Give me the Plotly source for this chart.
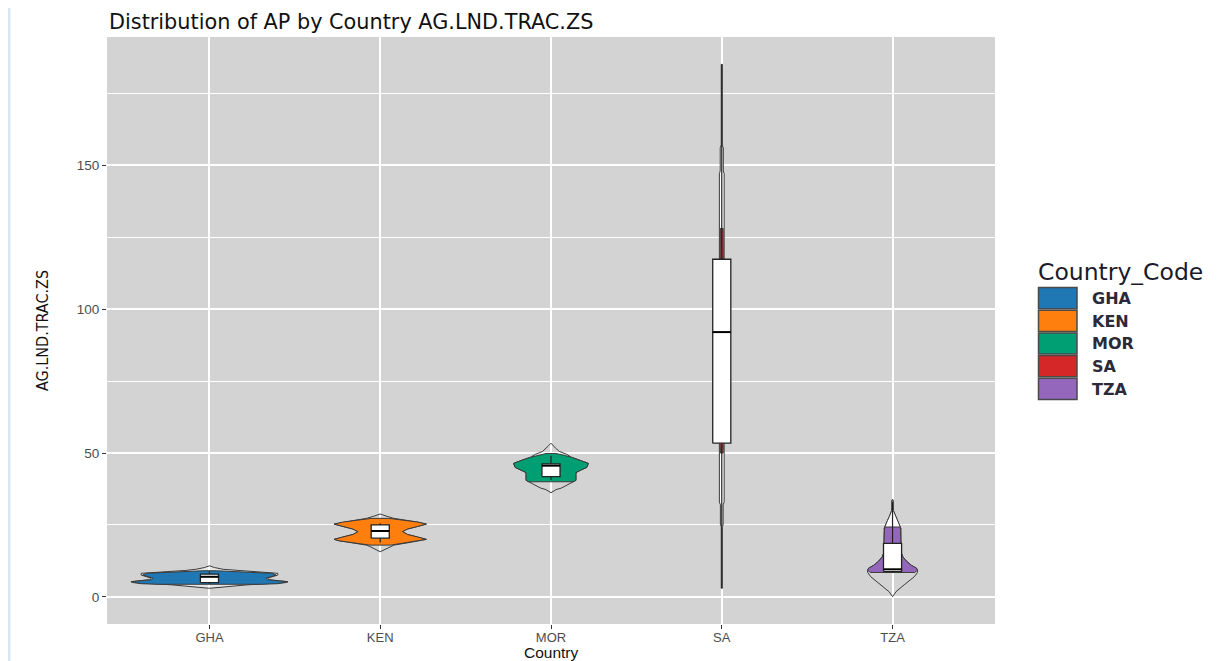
import plotly.graph_objects as go

# ---------------- data ----------------
countries = ["GHA", "KEN", "MOR", "SA", "TZA"]
colors = ["#1F77B4", "#FF7F0E", "#009E73", "#D62728", "#9467BD"]

# box statistics
q1 = [5.0, 20.4, 41.8, 53.4, 8.8]
median = [7.0, 22.9, 45.6, 92.0, 9.6]
q3 = [7.9, 25.0, 46.2, 117.3, 18.6]
lower_whisker = [4.6, 18.9, 40.6, 3.0, 8.3]
upper_whisker = [8.9, 25.6, 49.0, 185.0, 33.0]

# violin profiles: value levels (y) and half widths (in category units)
gha_outline_v = [3.0, 4.2, 5.0, 5.3, 5.6, 6.0, 6.5, 7.0, 7.6, 8.2, 8.7, 9.2, 9.6, 10.2, 10.8]
gha_outline_hw = [0.0, 0.22, 0.45, 0.46, 0.41, 0.35, 0.34, 0.37, 0.40, 0.40, 0.26, 0.14, 0.08, 0.03, 0.0]
gha_fill_v = [4.4, 4.6, 5.0, 5.3, 5.6, 6.0, 6.5, 7.0, 7.6, 8.2, 8.7, 9.1]
gha_fill_hw = [0.30, 0.40, 0.44, 0.455, 0.40, 0.34, 0.33, 0.36, 0.39, 0.37, 0.20, 0.04]

ken_outline_v = [15.7, 16.5, 17.5, 18.0, 18.8, 19.5, 20.0, 20.8, 21.7, 22.7, 23.6, 24.5, 25.3, 26.0, 26.7, 27.3, 28.0, 28.8]
ken_outline_hw = [0.0, 0.03, 0.06, 0.08, 0.16, 0.24, 0.27, 0.22, 0.16, 0.13, 0.16, 0.22, 0.27, 0.22, 0.14, 0.08, 0.04, 0.0]
ken_fill_v = [18.0, 18.8, 19.5, 20.0, 20.8, 21.7, 22.7, 23.6, 24.5, 25.3, 26.0, 26.7, 27.3]
ken_fill_hw = [0.06, 0.15, 0.24, 0.27, 0.22, 0.16, 0.13, 0.16, 0.22, 0.27, 0.22, 0.13, 0.05]

mor_outline_v = [36.2, 37.3, 37.8, 39.0, 40.0, 40.5, 42.0, 43.2, 44.1, 45.0, 46.4, 47.5, 48.5, 49.6, 50.5, 51.5, 52.5, 53.4]
mor_outline_hw = [0.0, 0.03, 0.06, 0.10, 0.13, 0.146, 0.146, 0.146, 0.176, 0.21, 0.219, 0.17, 0.12, 0.09, 0.05, 0.03, 0.015, 0.0]
mor_fill_v = [40.0, 40.5, 42.0, 43.2, 44.1, 45.0, 46.4, 47.5, 48.5, 49.3, 49.8]
mor_fill_hw = [0.13, 0.146, 0.146, 0.146, 0.176, 0.21, 0.219, 0.17, 0.12, 0.07, 0.03]

sa_outline_v = [3.0, 24.5, 25.0, 32.0, 33.0, 50.0, 53.0, 117.0, 128.0, 138.0, 147.0, 148.0, 156.0, 157.0, 185.0]
sa_outline_hw = [0.003, 0.003, 0.008, 0.008, 0.014, 0.014, 0.016, 0.016, 0.012, 0.014, 0.014, 0.009, 0.009, 0.003, 0.003]
sa_fill_v = [50.0, 53.0, 117.0, 128.0]
sa_fill_hw = [0.008, 0.009, 0.009, 0.008]

tza_outline_v = [0.1, 1.8, 4.2, 7.0, 8.5, 9.3, 10.0, 11.0, 12.5, 14.0, 15.5, 17.0, 19.0, 21.0, 23.8, 25.0, 26.5, 28.0, 29.1, 30.0, 33.7]
tza_outline_hw = [0.0, 0.02, 0.068, 0.127, 0.146, 0.146, 0.14, 0.11, 0.08, 0.06, 0.05, 0.05, 0.05, 0.05, 0.049, 0.04, 0.03, 0.018, 0.01, 0.005, 0.003]
tza_fill_v = [8.5, 9.3, 10.0, 11.0, 12.5, 14.0, 15.5, 17.0, 19.0, 21.0, 23.0, 24.3]
tza_fill_hw = [0.13, 0.146, 0.14, 0.11, 0.08, 0.06, 0.05, 0.05, 0.05, 0.05, 0.047, 0.045]

outlines = [(gha_outline_v, gha_outline_hw), (ken_outline_v, ken_outline_hw),
            (mor_outline_v, mor_outline_hw), (sa_outline_v, sa_outline_hw),
            (tza_outline_v, tza_outline_hw)]
fills = [(gha_fill_v, gha_fill_hw), (ken_fill_v, ken_fill_hw),
         (mor_fill_v, mor_fill_hw), (sa_fill_v, sa_fill_hw),
         (tza_fill_v, tza_fill_hw)]

# ---------------- styles ----------------
outline_fill = ["rgba(255,255,255,0.45)", "rgba(0,0,0,0)", "rgba(0,0,0,0)", "white", "rgba(0,0,0,0)"]
OUTLINE_COL = "#3a3a3a"
BOX_HW = 0.053
FONT = "Liberation Sans, Arial, sans-serif"
WIDE = "DejaVu Sans, Verdana, sans-serif"
NARROW = "Liberation Sans Narrow, DejaVu Sans Condensed, Arial Narrow, Liberation Sans, sans-serif"

# page geometry: the plot div sits 8px from the page's top-left corner
OFF = 8
PL, PR, PT, PB = 107, 995, 37, 624   # panel edges in page pixels
W, H = 1218, 661


def px2x(px):
    return (px - PL) / (PR - PL)


def py2y(py):
    return (PB - py) / (PB - PT)


def polygon(center, vs, hws):
    xs = [center + h for h in hws] + [center - h for h in reversed(hws)]
    ys = list(vs) + list(reversed(vs))
    xs.append(xs[0])
    ys.append(ys[0])
    return xs, ys


fig = go.Figure()

for i, name in enumerate(countries):
    pos = i + 1
    ov, oh = outlines[i]
    xs, ys = polygon(pos, ov, oh)
    fig.add_trace(go.Scatter(x=xs, y=ys, mode="lines", fill="toself",
                             fillcolor=outline_fill[i],
                             line=dict(color=OUTLINE_COL, width=1),
                             hoverinfo="skip", showlegend=False))
    # TZA: white region in the upper neck
    if name == "TZA":
        wv = [v for v in ov if v >= 23.5]
        wh = [h for v, h in zip(ov, oh) if v >= 23.5]
        xs, ys = polygon(pos, wv, wh)
        fig.add_trace(go.Scatter(x=xs, y=ys, mode="lines", fill="toself",
                                 fillcolor="white",
                                 line=dict(color=OUTLINE_COL, width=1),
                                 hoverinfo="skip", showlegend=False))
    fv, fh = fills[i]
    xs, ys = polygon(pos, fv, fh)
    fig.add_trace(go.Scatter(x=xs, y=ys, mode="lines", fill="toself",
                             fillcolor=colors[i],
                             line=dict(color=OUTLINE_COL, width=1),
                             name=name, hoverinfo="skip", showlegend=False))

for i, name in enumerate(countries):
    pos = i + 1
    # whiskers
    fig.add_trace(go.Scatter(x=[pos, pos, None, pos, pos],
                             y=[lower_whisker[i], q1[i], None, q3[i], upper_whisker[i]],
                             mode="lines", line=dict(color="#222222", width=1.2),
                             hoverinfo="skip", showlegend=False))
    # box
    fig.add_trace(go.Scatter(x=[pos - BOX_HW, pos + BOX_HW, pos + BOX_HW, pos - BOX_HW, pos - BOX_HW],
                             y=[q1[i], q1[i], q3[i], q3[i], q1[i]],
                             mode="lines", fill="toself", fillcolor="white",
                             line=dict(color="#222222", width=1.3),
                             hoverinfo="skip", showlegend=False))
    # median
    fig.add_trace(go.Scatter(x=[pos - BOX_HW, pos + BOX_HW], y=[median[i], median[i]],
                             mode="lines", line=dict(color="black", width=2),
                             hoverinfo="skip", showlegend=False))

# ---------------- layout ----------------
shapes = []
annotations = []

# legend (drawn manually to mimic ggplot keys)
leg_top = 287
key_h = 22.7
for i, name in enumerate(countries):
    y0 = leg_top + i * key_h
    shapes.append(dict(type="rect", xref="paper", yref="paper",
                       x0=px2x(1038.5), x1=px2x(1077), y0=py2y(y0 + key_h - 1), y1=py2y(y0 + 0.5),
                       fillcolor=colors[i], line=dict(color="#4a4a4a", width=1.5), layer="above"))
    annotations.append(dict(text="<b>" + name + "</b>", xref="paper", yref="paper",
                            x=px2x(1090), y=py2y(y0 + key_h / 2), xanchor="left", yanchor="middle",
                            showarrow=False, font=dict(family=WIDE, size=16, color="#2a2a3a")))
annotations.append(dict(text="Country_Code", xref="paper", yref="paper",
                        x=px2x(1036), y=py2y(272), xanchor="left", yanchor="middle",
                        showarrow=False, font=dict(family=WIDE, size=23.5, color="#1a1a2a")))

# x axis title (placed explicitly, as in the reference it sits at the bottom edge)
annotations.append(dict(text="Country", xref="paper", yref="paper",
                        x=0.5, y=py2y(652), xanchor="center", yanchor="middle",
                        showarrow=False, font=dict(family=FONT, size=15.5, color="#111111")))

# light blue border at left edge of the screenshot
shapes.append(dict(type="line", xref="paper", yref="paper",
                   x0=px2x(9), x1=px2x(9), y0=py2y(H + 5), y1=py2y(-5),
                   line=dict(color="#d8e5f3", width=3)))

fig.update_layout(
    width=W, height=H,
    margin=dict(l=PL - OFF, r=W - (PR - OFF), t=PT - OFF, b=H - (PB - OFF)),
    paper_bgcolor="white",
    plot_bgcolor="#d3d3d3",
    title=dict(text="Distribution of AP by Country AG.LND.TRAC.ZS",
               x=px2x(109), xref="paper", xanchor="left",
               y=1 - (22 - OFF) / H, yanchor="middle",
               font=dict(family=WIDE, size=20.8, color="#111111")),
    xaxis=dict(range=[0.4, 5.6], tickmode="array", tickvals=[1, 2, 3, 4, 5], ticktext=countries,
               showgrid=True, gridcolor="white", gridwidth=1.5, zeroline=False, automargin=False,
               ticks="outside", ticklen=4, tickcolor="#333333", tickwidth=1,
               ticklabelstandoff=-3,
               tickfont=dict(family=FONT, size=13, color="#4d4d4d")),
    yaxis=dict(range=[-9.4, 194.5], tickmode="linear", tick0=0, dtick=50,
               showgrid=True, gridcolor="white", gridwidth=1.5, zeroline=False, automargin=False,
               minor=dict(showgrid=True, gridcolor="white", gridwidth=0.8, dtick=25, tick0=0),
               ticks="outside", ticklen=4, tickcolor="#333333", tickwidth=1,
               tickfont=dict(family=FONT, size=13.5, color="#4d4d4d"),
               title=dict(text="AG.LND.TRAC.ZS", standoff=24,
                          font=dict(family=NARROW, size=16, color="#111111"))),
    shapes=shapes,
    annotations=annotations,
    showlegend=False,
)

fig.write_html("out.html")
